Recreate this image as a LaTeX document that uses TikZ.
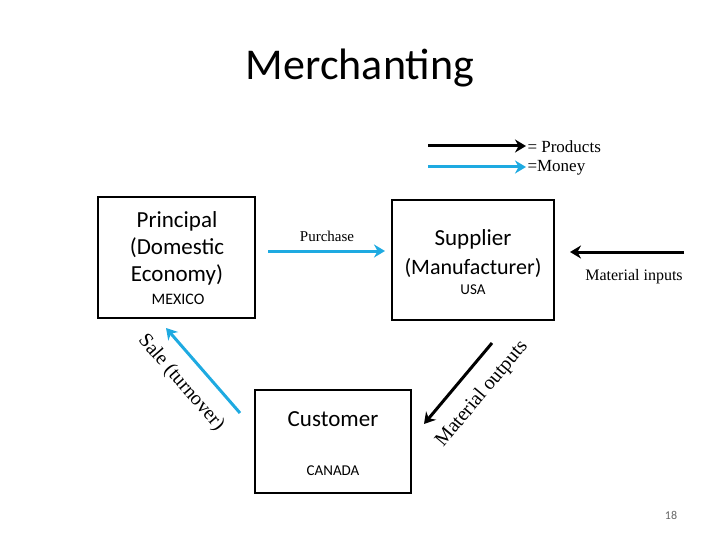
\documentclass[tikz,border=0pt]{standalone}
\usepackage{fontspec}
\setmainfont{Carlito}
\newfontfamily\serifc{Liberation Serif}
\usetikzlibrary{arrows.meta}
\definecolor{money}{RGB}{30,170,225}
\begin{document}
\begin{tikzpicture}[x=1pt,y=-1pt,
  box/.style={draw,line width=1.3pt,inner sep=0pt},
  arr/.style={line width=3pt,-{Stealth[length=11pt,width=13pt]}},
  prod/.style={arr,black},
  mon/.style={arr,money},
  lbl/.style={font=\serifc\fontsize{17}{19}\selectfont}]
\useasboundingbox (0,0) rectangle (720,540);
\node (title) at (360,68) {\fontsize{44}{48}\selectfont Merchanting};
\node[box,minimum width=157pt,minimum height=121pt] (pr) at (176.5,257.5) {};
\node[box,minimum width=162pt,minimum height=120pt] (su) at (473,260) {};
\node[box,minimum width=156pt,minimum height=103pt] (cu) at (333,441.5) {};
\node[align=center,font=\fontsize{23}{27}\selectfont] (prt) at (177,248) {Principal\\(Domestic\\Economy)};
\node[font=\fontsize{16}{18}\selectfont] (mx) at (178,299) {MEXICO};
\node[font=\fontsize{23}{25}\selectfont] (sut) at (473,239) {Supplier};
\node[font=\fontsize{22}{24}\selectfont] (sum) at (473,268) {(Manufacturer)};
\node[font=\fontsize{15}{17}\selectfont] (usa) at (473,290) {USA};
\node[font=\fontsize{23}{25}\selectfont] (cut) at (333,419) {Customer};
\node[font=\fontsize{15}{17}\selectfont] (ca) at (333,471) {CANADA};
\coordinate (pa) at (268,251); \coordinate (pb) at (385,251);
\draw[mon] (pa) -- (pb);
\node[font=\serifc\fontsize{15}{17}\selectfont] (pur) at (327,236) {Purchase};
\coordinate (sa) at (240,413); \coordinate (sb) at (166,328);
\draw[mon] (sa) -- (sb);
\node[rotate=-49,font=\serifc\fontsize{20}{22}\selectfont] (sal) at (181,383) {Sale (turnover)};
\coordinate (ma) at (492,343); \coordinate (mb) at (424,424);
\draw[prod] (ma) -- (mb);
\node[rotate=50,font=\serifc\fontsize{20}{22}\selectfont] (mot) at (482,394) {Material outputs};
\coordinate (ia) at (684,252); \coordinate (ib) at (570,252);
\draw[prod] (ia) -- (ib);
\node[lbl,font=\serifc\fontsize{16}{18}\selectfont] (min) at (634,277) {Material inputs};
\coordinate (l1a) at (428,146); \coordinate (l1b) at (526,146);
\draw[prod] (l1a) -- (l1b);
\coordinate (l2a) at (428,167); \coordinate (l2b) at (526,167);
\draw[mon] (l2a) -- (l2b);
\node[lbl,anchor=west] (lp) at (524,147) {= Products};
\node[lbl,anchor=west] (lm) at (524,168) {=Money};
\node[font=\fontsize{12}{14}\selectfont,text=gray!80!black] (pg) at (671,515) {18};
\end{tikzpicture}
\end{document}
